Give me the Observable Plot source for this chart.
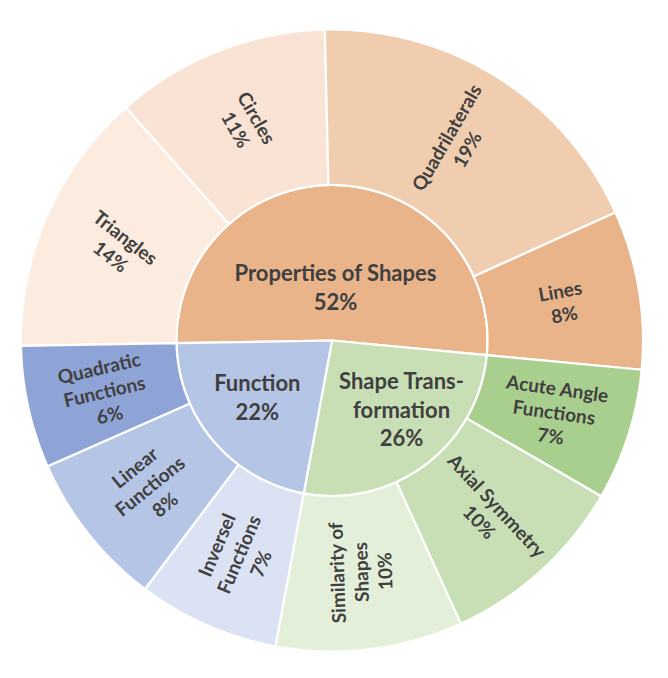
<!DOCTYPE html>
<html>
<head>
<meta charset="utf-8">
<script src="https://cdn.jsdelivr.net/npm/d3@7"></script>
<script src="https://cdn.jsdelivr.net/npm/@observablehq/plot@0.6"></script>
<style>
  html, body { margin: 0; padding: 0; background: #ffffff; }
  svg { display: block; }
</style>
</head>
<body>
<div id="chart"></div>
<script>
// ---- Data ----
const groups = ["Properties of Shapes", "Shape Trans-\nformation", "Function"];
const groupColors = ["#E9B48A", "#C8DFB5", "#B4C5E5"];

const leaves = ["Triangles", "Circles", "Quadrilaterals", "Lines",
                "Acute Angle\nFunctions", "Axial Symmetry", "Similarity of\nShapes",
                "Inversel\nFunctions", "Linear\nFunctions", "Quadratic\nFunctions"];
const leafGroup = [0, 0, 0, 0, 1, 1, 1, 2, 2, 2];
const leafValues = [13.75, 11.15, 18.6, 8.25, 6.85, 9.85, 9.7, 7.35, 8.1, 6.35];
const leafColors = ["#FCEBDF", "#F8E3D5", "#F1CDB0", "#E9B48A",
                    "#A9CF8E", "#C8DFB5", "#E3EFD9",
                    "#DBE2F3", "#B4C5E5", "#8FA4D6"];

// ---- Layout (styling) ----
const W = 668, H = 678;
const cx = 331.5, cy = 340, Rpx = 311;   // centre and outer radius in pixels
const innerR = 0.5;                       // inner ring radius (fraction of outer)
const startAngle = -91;                   // degrees clockwise from 12 o'clock
const leafLabelRotate = [38, 60, -60, -10, 8, 47, -92, -67, -39, -13];
const innerLabelShift = [{da: 1.5, k: 0.85}, {da: -8.5, k: 1.056}, {da: 3.5, k: 0.974}];
const textColor = "#404040";

// ---- Geometry from data ----
const total = d3.sum(leafValues);
const pct = v => Math.round(v / total * 100) + "%";
const rad = a => a * Math.PI / 180;

let acc = startAngle;
const leafArcs = leafValues.map((v, i) => {
  const a0 = acc; acc += v / total * 360;
  return {i, a0, a1: acc, v};
});
const groupArcs = groups.map((g, gi) => {
  const mine = leafArcs.filter(d => leafGroup[d.i] === gi);
  return {gi, a0: d3.min(mine, d => d.a0), a1: d3.max(mine, d => d.a1), v: d3.sum(mine, d => d.v)};
});

function wedge(id, a0, a1, r0, r1, color) {
  const pts = [];
  const n = Math.max(4, Math.ceil((a1 - a0) / 0.5));
  for (let k = 0; k <= n; k++) {
    const t = rad(a0 + (a1 - a0) * k / n);
    pts.push({id, color, x: r1 * Math.sin(t), y: r1 * Math.cos(t)});
  }
  if (r0 > 0) {
    for (let k = n; k >= 0; k--) {
      const t = rad(a0 + (a1 - a0) * k / n);
      pts.push({id, color, x: r0 * Math.sin(t), y: r0 * Math.cos(t)});
    }
  } else {
    pts.push({id, color, x: 0, y: 0});
  }
  return pts;
}

const polys = [
  ...groupArcs.flatMap(d => wedge("g" + d.gi, d.a0, d.a1, 0, innerR, groupColors[d.gi])),
  ...leafArcs.flatMap(d => wedge("l" + d.i, d.a0, d.a1, innerR, 1, leafColors[d.i]))
];

const leafLabels = leafArcs.map(d => {
  const m = rad((d.a0 + d.a1) / 2), r = (innerR + 1) / 2;
  return {x: r * Math.sin(m), y: r * Math.cos(m),
          text: leaves[d.i] + "\n" + pct(d.v), rotate: leafLabelRotate[d.i]};
});
const groupLabels = groupArcs.map(d => {
  const half = rad((d.a1 - d.a0) / 2);
  const rc = 2 * innerR * Math.sin(half) / (3 * half) * innerLabelShift[d.gi].k;
  const m = rad((d.a0 + d.a1) / 2 + innerLabelShift[d.gi].da);
  return {x: rc * Math.sin(m), y: rc * Math.cos(m), text: groups[d.gi] + "\n" + pct(d.v)};
});

const chart = Plot.plot({
  width: W, height: H,
  margin: 0,
  x: {domain: [(0 - cx) / Rpx, (W - cx) / Rpx], axis: null},
  y: {domain: [(cy - H) / Rpx, cy / Rpx], axis: null},
  color: {type: "identity"},
  style: {background: "#ffffff"},
  marks: [
    Plot.line(polys, {x: "x", y: "y", z: "id", fill: "color", stroke: "#ffffff",
                      strokeWidth: 2.2, strokeLinejoin: "round", curve: "linear-closed"}),
    Plot.text(leafLabels, {x: "x", y: "y", text: "text", rotate: "rotate",
                           fontSize: 19, fontWeight: 700, fontFamily: "Lato",
                           lineHeight: 1.26, fill: textColor}),
    Plot.text(groupLabels, {x: "x", y: "y", text: "text",
                            fontSize: 22, fontWeight: 700, fontFamily: "Lato",
                            lineHeight: 1.3, fill: textColor})
  ]
});
document.getElementById("chart").appendChild(chart);
</script>
</body>
</html>
